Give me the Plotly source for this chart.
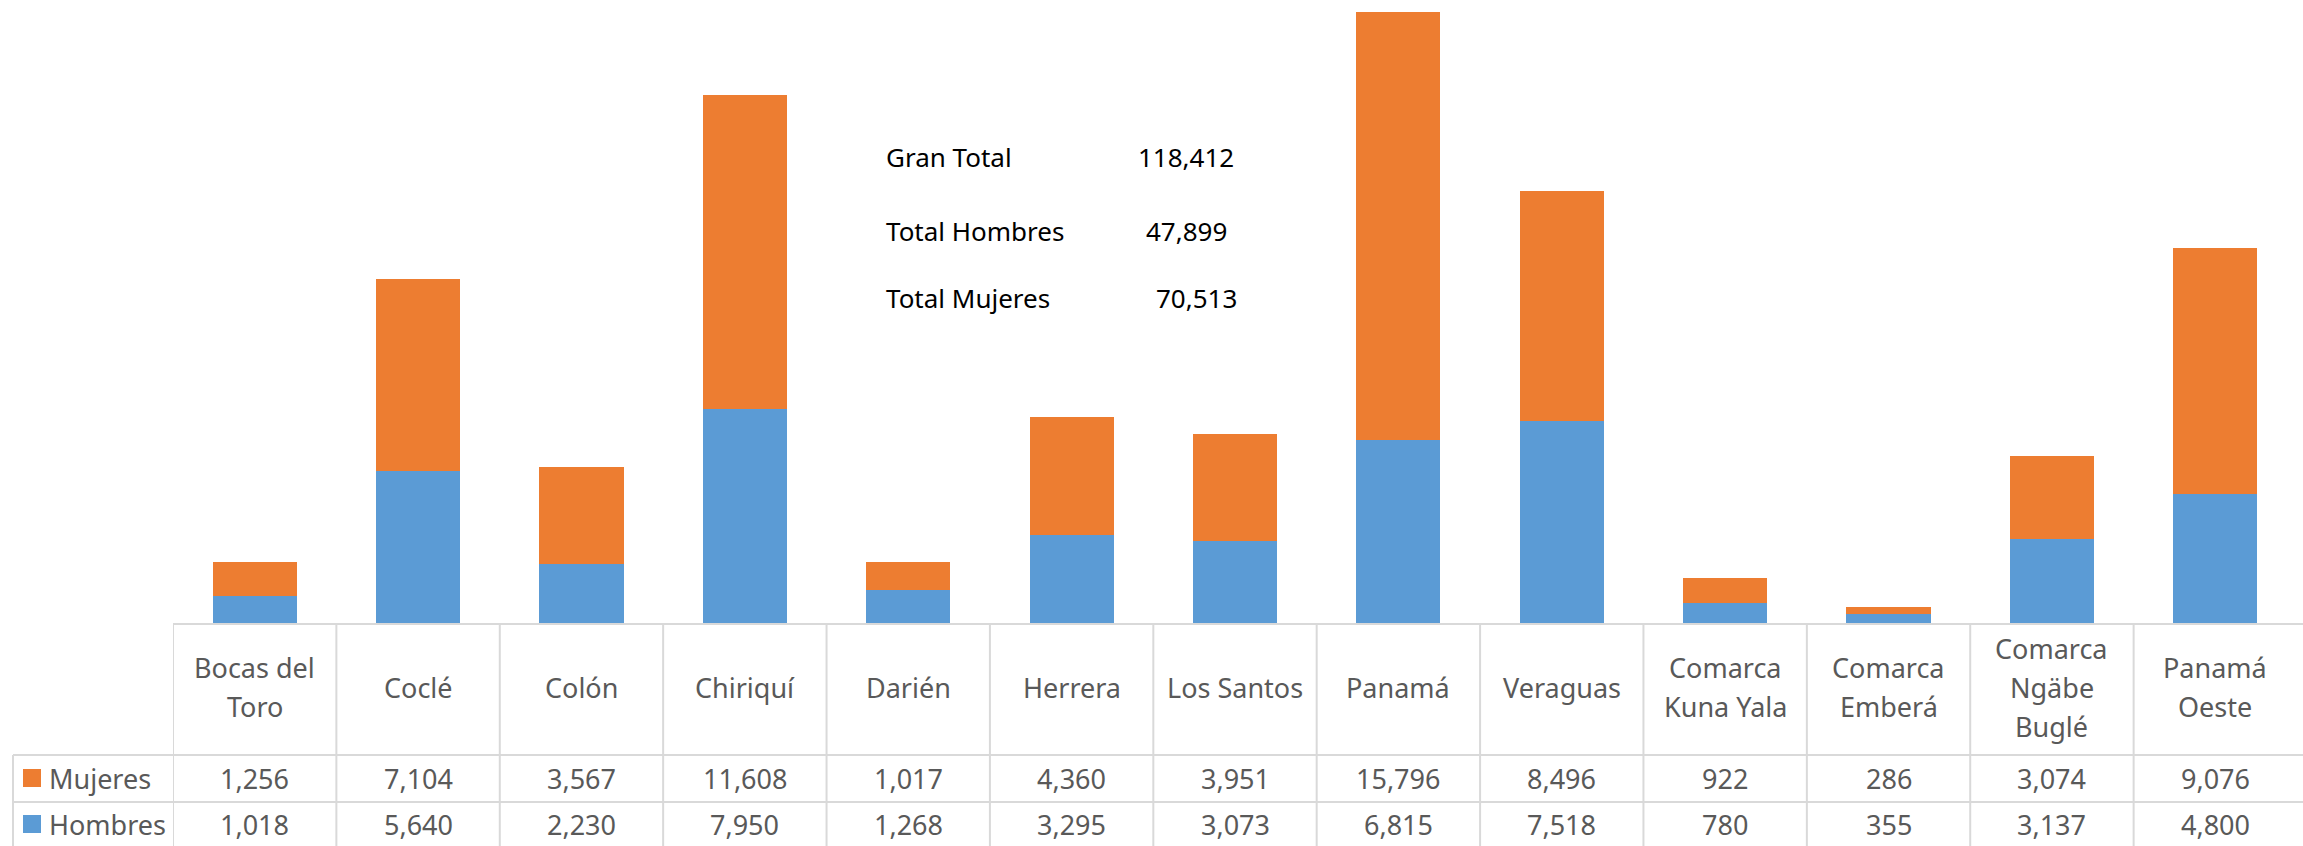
import plotly.graph_objects as go

# datos por provincia / comarca
provincias = ["Bocas del<br>Toro", "Coclé", "Colón", "Chiriquí", "Darién", "Herrera",
              "Los Santos", "Panamá", "Veraguas", "Comarca<br>Kuna Yala",
              "Comarca<br>Emberá", "Comarca<br>Ngäbe<br>Buglé", "Panamá<br>Oeste"]
mujeres = [1256, 7104, 3567, 11608, 1017, 4360, 3951, 15796, 8496, 922, 286, 3074, 9076]
hombres = [1018, 5640, 2230, 7950, 1268, 3295, 3073, 6815, 7518, 780, 355, 3137, 4800]

totales_txt = ["Gran Total", "Total Hombres", "Total Mujeres"]
totales_val = ["118,412", "47,899", "70,513"]

series = [("Mujeres", mujeres, "#ED7D31"), ("Hombres", hombres, "#5B9BD5")]

W, H = 2303, 846
L, R = 173, 2297          # area de columnas
AX = 624                  # linea base de las barras
GRIS = "#595959"
LINEA = "#D9D9D9"
FUENTE = "Noto Sans"
TAM = 27
n = len(provincias)


def py(y):
    # pixel vertical -> coordenada paper
    return (AX - y) / AX


def px_(x):
    return (x - L) / (R - L)


fig = go.Figure()
fig.add_bar(x=list(range(n)), y=hombres, name="Hombres", marker_color="#5B9BD5",
            marker_line_width=0)
fig.add_bar(x=list(range(n)), y=mujeres, name="Mujeres", marker_color="#ED7D31",
            marker_line_width=0)

shapes = []
annotations = []

# lineas de la tabla
shapes.append(dict(type="line", xref="paper", yref="paper", x0=0, x1=px_(W),
                   y0=py(AX), y1=py(AX), line=dict(color=LINEA, width=2)))
for yl in [755, 802]:
    shapes.append(dict(type="line", xref="paper", yref="paper", x0=px_(13), x1=px_(W),
                       y0=py(yl), y1=py(yl), line=dict(color=LINEA, width=2)))
for i in range(n):
    shapes.append(dict(type="line", xref="x", yref="paper", x0=i - 0.5, x1=i - 0.5,
                       y0=py(AX), y1=py(H), line=dict(color=LINEA, width=2)))
shapes.append(dict(type="line", xref="paper", yref="paper", x0=px_(13), x1=px_(13),
                   y0=py(755), y1=py(H), line=dict(color=LINEA, width=2)))

# encabezados
for i, nombre in enumerate(provincias):
    lineas = nombre.split("<br>")
    k = len(lineas)
    for j, t in enumerate(lineas):
        yc = 687 + (j - (k - 1) / 2) * 39
        annotations.append(dict(x=i, y=py(yc), xref="x", yref="paper", text=t,
                                showarrow=False, xanchor="center", yanchor="middle",
                                font=dict(family=FUENTE, size=TAM, color=GRIS)))

# filas de valores + leyenda
for (nombre, vals, color), yc in zip(series, [778, 824]):
    for i, v in enumerate(vals):
        annotations.append(dict(x=i, y=py(yc), xref="x", yref="paper", text=f"{v:,}",
                                showarrow=False, xanchor="center", yanchor="middle",
                                font=dict(family=FUENTE, size=TAM, color=GRIS)))
    shapes.append(dict(type="rect", xref="paper", yref="paper", x0=px_(23), x1=px_(41),
                       y0=py(yc - 9), y1=py(yc + 9), fillcolor=color, line_width=0))
    annotations.append(dict(x=px_(47), y=py(yc), xref="paper", yref="paper", text=nombre,
                            showarrow=False, xanchor="left", yanchor="middle",
                            font=dict(family=FUENTE, size=TAM, color=GRIS)))

# cuadro de totales
for t, v, yc, xr in zip(totales_txt, totales_val, [157, 231, 298], [1236, 1229, 1239]):
    annotations.append(dict(x=px_(884), y=py(yc), xref="paper", yref="paper", text=t,
                            showarrow=False, xanchor="left", yanchor="middle",
                            font=dict(family=FUENTE, size=26, color="black")))
    annotations.append(dict(x=px_(xr), y=py(yc), xref="paper", yref="paper", text=v,
                            showarrow=False, xanchor="right", yanchor="middle",
                            font=dict(family=FUENTE, size=26, color="black")))

fig.update_layout(
    width=W, height=H,
    margin=dict(l=L, r=W - R, t=0, b=H - AX),
    barmode="stack", bargap=0.485,
    showlegend=False,
    plot_bgcolor="white", paper_bgcolor="white",
    xaxis=dict(range=[-0.5, n - 0.5], showticklabels=False, showgrid=False,
               zeroline=False, showline=False, ticks=""),
    yaxis=dict(range=[0, 22611 * AX / 612], visible=False, showgrid=False),
    shapes=shapes, annotations=annotations,
)

fig.write_html("out.html", config={"displayModeBar": False},
               post_script="document.body.style.margin='0';")
